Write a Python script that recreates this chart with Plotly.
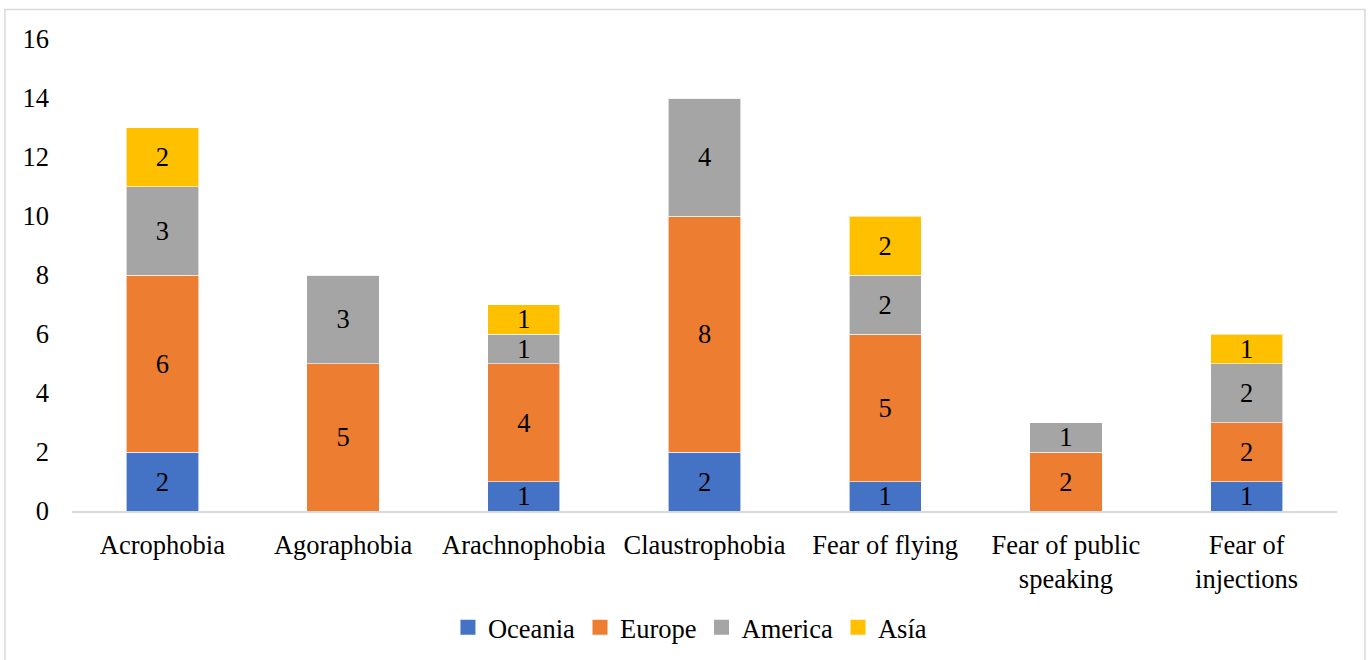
import plotly.graph_objects as go

categories = ["Acrophobia", "Agoraphobia", "Arachnophobia", "Claustrophobia",
              "Fear of flying", "Fear of public<br>speaking", "Fear of<br>injections"]
oceania = [2, 0, 1, 2, 1, 0, 1]
europe = [6, 5, 4, 8, 5, 2, 2]
america = [3, 3, 1, 4, 2, 1, 2]
asia = [2, 0, 1, 0, 2, 0, 1]

series = [
    ("Oceania", oceania, "#4472C4"),
    ("Europe", europe, "#ED7D31"),
    ("America", america, "#A5A5A5"),
    ("Asía", asia, "#FFC000"),
]

FONT = "Liberation Serif"
SIZE = 26.5
fig = go.Figure()
for name, vals, color in series:
    fig.add_trace(go.Bar(
        name=name,
        x=categories,
        y=vals,
        marker=dict(color=color, line=dict(color="rgba(255,255,255,0.6)", width=1)),
        text=[str(v) if v else "" for v in vals],
        textposition="inside",
        insidetextanchor="middle",
        textfont=dict(family=FONT, size=SIZE, color="black"),
        textangle=0,
        hoverinfo="skip",
        showlegend=False,
    ))
    # square legend swatch
    fig.add_trace(go.Scatter(
        name=name, x=[None], y=[None], mode="markers",
        marker=dict(symbol="square", size=15, color=color),
        showlegend=True, hoverinfo="skip",
    ))

fig.update_layout(
    template="none",
    barmode="stack",
    bargap=0.6,
    width=1368, height=660,
    margin=dict(l=72, r=31, t=39, b=149, autoexpand=False),
    paper_bgcolor="white",
    plot_bgcolor="white",
    font=dict(family=FONT, size=SIZE, color="black"),
    uniformtext=dict(minsize=SIZE, mode="show"),
    xaxis=dict(
        showline=True, linecolor="#d9d9d9", linewidth=2,
        showgrid=False, ticks="", ticklabelstandoff=9,
        tickfont=dict(family=FONT, size=SIZE, color="black"),
    ),
    yaxis=dict(
        range=[0, 16], dtick=2, showgrid=False, zeroline=False,
        showline=False, ticks="", ticklabelstandoff=22,
        tickfont=dict(family=FONT, size=SIZE, color="black"),
    ),
    legend=dict(
        orientation="h", x=0.4885, xanchor="center", y=-0.247, yanchor="middle",
        font=dict(family=FONT, size=SIZE, color="black"),
        itemwidth=30, traceorder="normal",
    ),
    shapes=[dict(
        type="rect", xref="paper", yref="paper",
        x0=-0.053, x1=1.0221, y0=-0.32, y1=1.0625,
        line=dict(color="#d9d9d9", width=1.5), layer="below",
    )],
)

fig.write_html("out.html")
